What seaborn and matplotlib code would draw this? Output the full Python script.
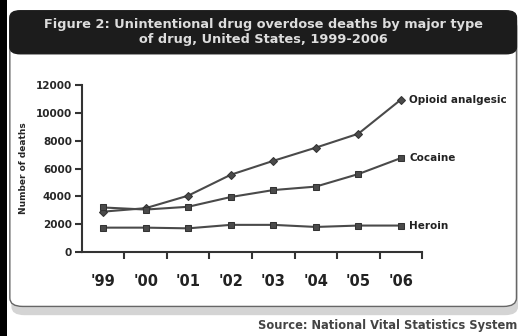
import pandas as pd
import seaborn as sns
import matplotlib.pyplot as plt
from matplotlib.patches import FancyBboxPatch, Rectangle

years = ["'99", "'00", "'01", "'02", "'03", "'04", "'05", "'06"]
opioid = [2900, 3150, 4050, 5550, 6550, 7500, 8500, 10950]
cocaine = [3200, 3050, 3250, 3950, 4450, 4700, 5600, 6750]
heroin = [1750, 1750, 1700, 1950, 1950, 1800, 1900, 1900]
drugs = ["Opioid analgesic", "Cocaine", "Heroin"]

df = pd.DataFrame({
    "pos": list(range(len(years))) * 3,
    "deaths": opioid + cocaine + heroin,
    "drug": [d for d in drugs for _ in years],
})

sns.set_style("ticks")
plt.rcParams["font.family"] = ["DejaVu Sans"]

fig = plt.figure(figsize=(5.18, 3.36), dpi=100)
fig.patch.set_facecolor("white")

# frame: shadow, white box, dark title bar, black strip on the left
fig.patches.append(FancyBboxPatch((0.022, 0.062), 0.978, 0.88, boxstyle="round,pad=0,rounding_size=0.025",
                                  transform=fig.transFigure, fc="#a0a0a0", ec="none", alpha=0.45, zorder=-3))
fig.patches.append(FancyBboxPatch((0.019, 0.088), 0.978, 0.875, boxstyle="round,pad=0,rounding_size=0.025",
                                  transform=fig.transFigure, fc="white", ec="#666666", lw=1, zorder=-2))
fig.patches.append(FancyBboxPatch((0.019, 0.84), 0.978, 0.128, boxstyle="round,pad=0,rounding_size=0.02",
                                  transform=fig.transFigure, fc="#1c1c1c", ec="#1c1c1c", zorder=-1))
fig.patches.append(Rectangle((0, 0), 0.013, 1, transform=fig.transFigure, fc="black", ec="none", zorder=1))

fig.text(0.508, 0.905, "Figure 2: Unintentional drug overdose deaths by major type\nof drug, United States, 1999-2006",
         ha="center", va="center", color="#dddddd", fontsize=9.3, fontweight="bold", linespacing=1.25)
fig.text(0.999, 0.012, "Source: National Vital Statistics System", ha="right", va="bottom",
         color="#444444", fontsize=8.3, fontweight="bold")

ax = fig.add_axes([0.158, 0.25, 0.657, 0.497])
ax.set_zorder(2)
ax.patch.set_alpha(0)
sns.lineplot(data=df, x="pos", y="deaths", hue="drug", style="drug", ax=ax,
             palette={d: "#4a4a4a" for d in drugs},
             markers={"Opioid analgesic": "D", "Cocaine": "s", "Heroin": "s"},
             dashes=False, linewidth=1.5, markersize=5, markeredgecolor="#333333", legend=False)
ax.lines[0].set_markersize(3.8)

for d, vals in zip(drugs, [opioid, cocaine, heroin]):
    ax.text(len(years) - 1 + 0.2, vals[-1], d, va="center", ha="left", fontsize=7.5,
            fontweight="bold", color="#222222")

ax.set_xlim(-0.5, len(years) - 0.5)
ax.set_ylim(0, 12000)
ax.set_yticks(range(0, 12001, 2000))
ax.set_xticks(range(len(years)))
ax.set_xticklabels(years)
ax.set_xticks([i + 0.5 for i in range(len(years))], minor=True)
ax.tick_params(axis="x", which="major", length=0, pad=16, labelsize=10.5, colors="#222222")
ax.tick_params(axis="x", which="minor", length=5, width=1.5, color="#333333")
ax.tick_params(axis="y", length=5, width=1.5, color="#333333", labelsize=7.5, pad=2)
for lab in ax.get_xticklabels() + ax.get_yticklabels():
    lab.set_fontweight("bold")
ax.set_xlabel("")
ax.set_ylabel("Number of deaths", fontsize=6.5, fontweight="bold", labelpad=6)
sns.despine(ax=ax)
for s in ["left", "bottom"]:
    ax.spines[s].set_linewidth(1.5)
    ax.spines[s].set_color("#333333")

fig.savefig("out.png", dpi=100)
